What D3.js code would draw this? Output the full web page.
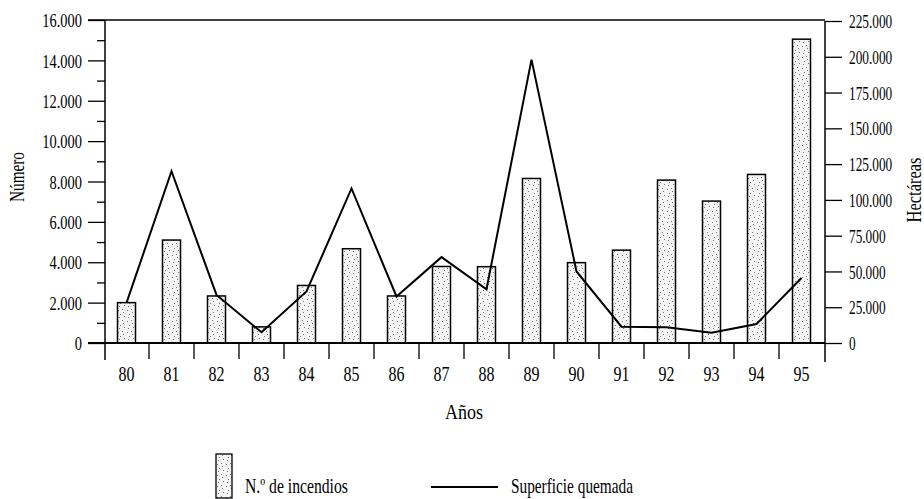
<!DOCTYPE html>
<html><head><meta charset="utf-8">
<script src="https://cdn.jsdelivr.net/npm/d3@7"></script>
<style>body{margin:0;background:#fff;}</style>
</head>
<body><svg id="c" width="924" height="499"></svg>
<script>
const years = ["80","81","82","83","84","85","86","87","88","89","90","91","92","93","94","95"];
const incendios = [2000,5100,2330,800,2850,4670,2330,3790,3780,8150,3980,4600,8070,7030,8350,15050];
const superficie = [28000,120000,33600,7500,36000,108000,32500,60000,37600,198000,50000,11400,11000,7200,13300,45400];
const leftTicks = [0,2000,4000,6000,8000,10000,12000,14000,16000];
const leftMinor = [1000,3000,5000,7000,9000,11000,13000,15000];
const rightTicks = [0,25000,50000,75000,100000,125000,150000,175000,200000,225000];
const fmt = v => v === 0 ? "0" : d3.format(",")(v).replace(/,/g, ".");
const FF = "Liberation Serif";

const svg = d3.select("#c");
const x = d3.scaleBand().domain(years).range([104, 824]).padding(0);
const yL = d3.scaleLinear().domain([0,16000]).range([343, 20]);
const yR = d3.scaleLinear().domain([0,225000]).range([343, 21]);

const defs = svg.append("defs");
const pat = defs.append("pattern").attr("id","stip").attr("patternUnits","userSpaceOnUse").attr("width",9).attr("height",11);
pat.append("rect").attr("width",9).attr("height",11).attr("fill","#f4f4f4");
[[1,2],[5,1],[3,6],[7,8],[2,9],[6,4]].forEach(p=>pat.append("rect").attr("x",p[0]).attr("y",p[1]).attr("width",1).attr("height",1).attr("fill","#777"));

svg.append("line").attr("x1",88).attr("x2",825).attr("y1",20).attr("y2",20).attr("stroke","#000").attr("stroke-width",1.5);

// left axis
const gL = svg.append("g").attr("transform","translate(105,0)")
  .call(d3.axisLeft(yL).tickValues(leftTicks).tickFormat(fmt).tickSize(17).tickPadding(6));
gL.attr("font-family",FF).attr("font-size",19);
gL.select(".domain").attr("stroke-width",1.5).attr("d","M0,20V360");
gL.selectAll(".tick line").attr("stroke-width",1.3);
gL.selectAll(".tick text").attr("x",0).attr("dy","0.35em").attr("transform","translate(-23,0) scale(0.76,1)");
const gLm = svg.append("g").attr("transform","translate(105,0)")
  .call(d3.axisLeft(yL).tickValues(leftMinor).tickFormat("").tickSize(8));
gLm.select(".domain").remove();
gLm.selectAll(".tick line").attr("stroke-width",1.3);

// right axis
const gR = svg.append("g").attr("transform","translate(825,0)")
  .call(d3.axisRight(yR).tickValues(rightTicks).tickFormat(fmt).tickSize(17).tickPadding(6));
gR.attr("font-family",FF).attr("font-size",19);
gR.select(".domain").attr("stroke-width",1.5).attr("d","M0,21V362");
gR.selectAll(".tick line").attr("stroke-width",1.3);
gR.selectAll(".tick text").attr("x",0).attr("dy","0.35em").attr("transform","translate(24,0) scale(0.7,1)");

// bottom labels
const gB = svg.append("g").attr("transform","translate(0,343)")
  .call(d3.axisBottom(x).tickSize(0).tickPadding(0));
gB.attr("font-family",FF).attr("font-size",20.5);
gB.select(".domain").remove();
gB.selectAll(".tick text").attr("y",0).attr("dy",0).attr("transform","translate(0,38) scale(0.78,1)");
svg.append("g").selectAll("line").data(years.slice(1)).join("line")
  .attr("x1",d=>x(d)).attr("x2",d=>x(d)).attr("y1",343).attr("y2",359)
  .attr("stroke","#000").attr("stroke-width",1.3);

// bars
svg.append("g").selectAll("rect").data(years).join("rect")
  .attr("x",d=>x(d)+x.bandwidth()*0.3).attr("width",x.bandwidth()*0.4)
  .attr("y",(d,i)=>yL(incendios[i])).attr("height",(d,i)=>yL(0)-yL(incendios[i]))
  .attr("fill","url(#stip)").attr("stroke","#000").attr("stroke-width",1.5);

svg.append("line").attr("x1",88).attr("x2",825).attr("y1",343).attr("y2",343).attr("stroke","#000").attr("stroke-width",1.8);

// line
const line = d3.line().x((d,i)=>x(years[i])+x.bandwidth()/2).y(d=>yR(d));
svg.append("path").datum(superficie).attr("d",line).attr("fill","none").attr("stroke","#000").attr("stroke-width",2).attr("stroke-linejoin","miter");

// texts fitted to width
function fitText(px, py, rot, size, anchor, width, str){
  const g = svg.append("g").attr("transform",`translate(${px},${py}) rotate(${rot})`);
  const t = g.append("text").attr("font-family",FF).attr("font-size",size).attr("text-anchor",anchor).text(str);
  const w = t.node().getComputedTextLength();
  t.attr("transform",`scale(${width/w},1)`);
}
fitText(24,177,-90,20,"middle",50,"Número");
fitText(921,190,-90,20,"middle",65,"Hectáreas");
fitText(464,418.5,0,20,"middle",38,"Años");

// legend
svg.append("rect").attr("x",216).attr("y",454).attr("width",16).attr("height",44).attr("fill","url(#stip)").attr("stroke","#000").attr("stroke-width",1.3);
fitText(245,493,0,21,"start",103,"N.º de incendios");
svg.append("line").attr("x1",431).attr("x2",498).attr("y1",487).attr("y2",487).attr("stroke","#000").attr("stroke-width",1.8);
fitText(511,493,0,21,"start",122,"Superficie quemada");
</script></body></html>
